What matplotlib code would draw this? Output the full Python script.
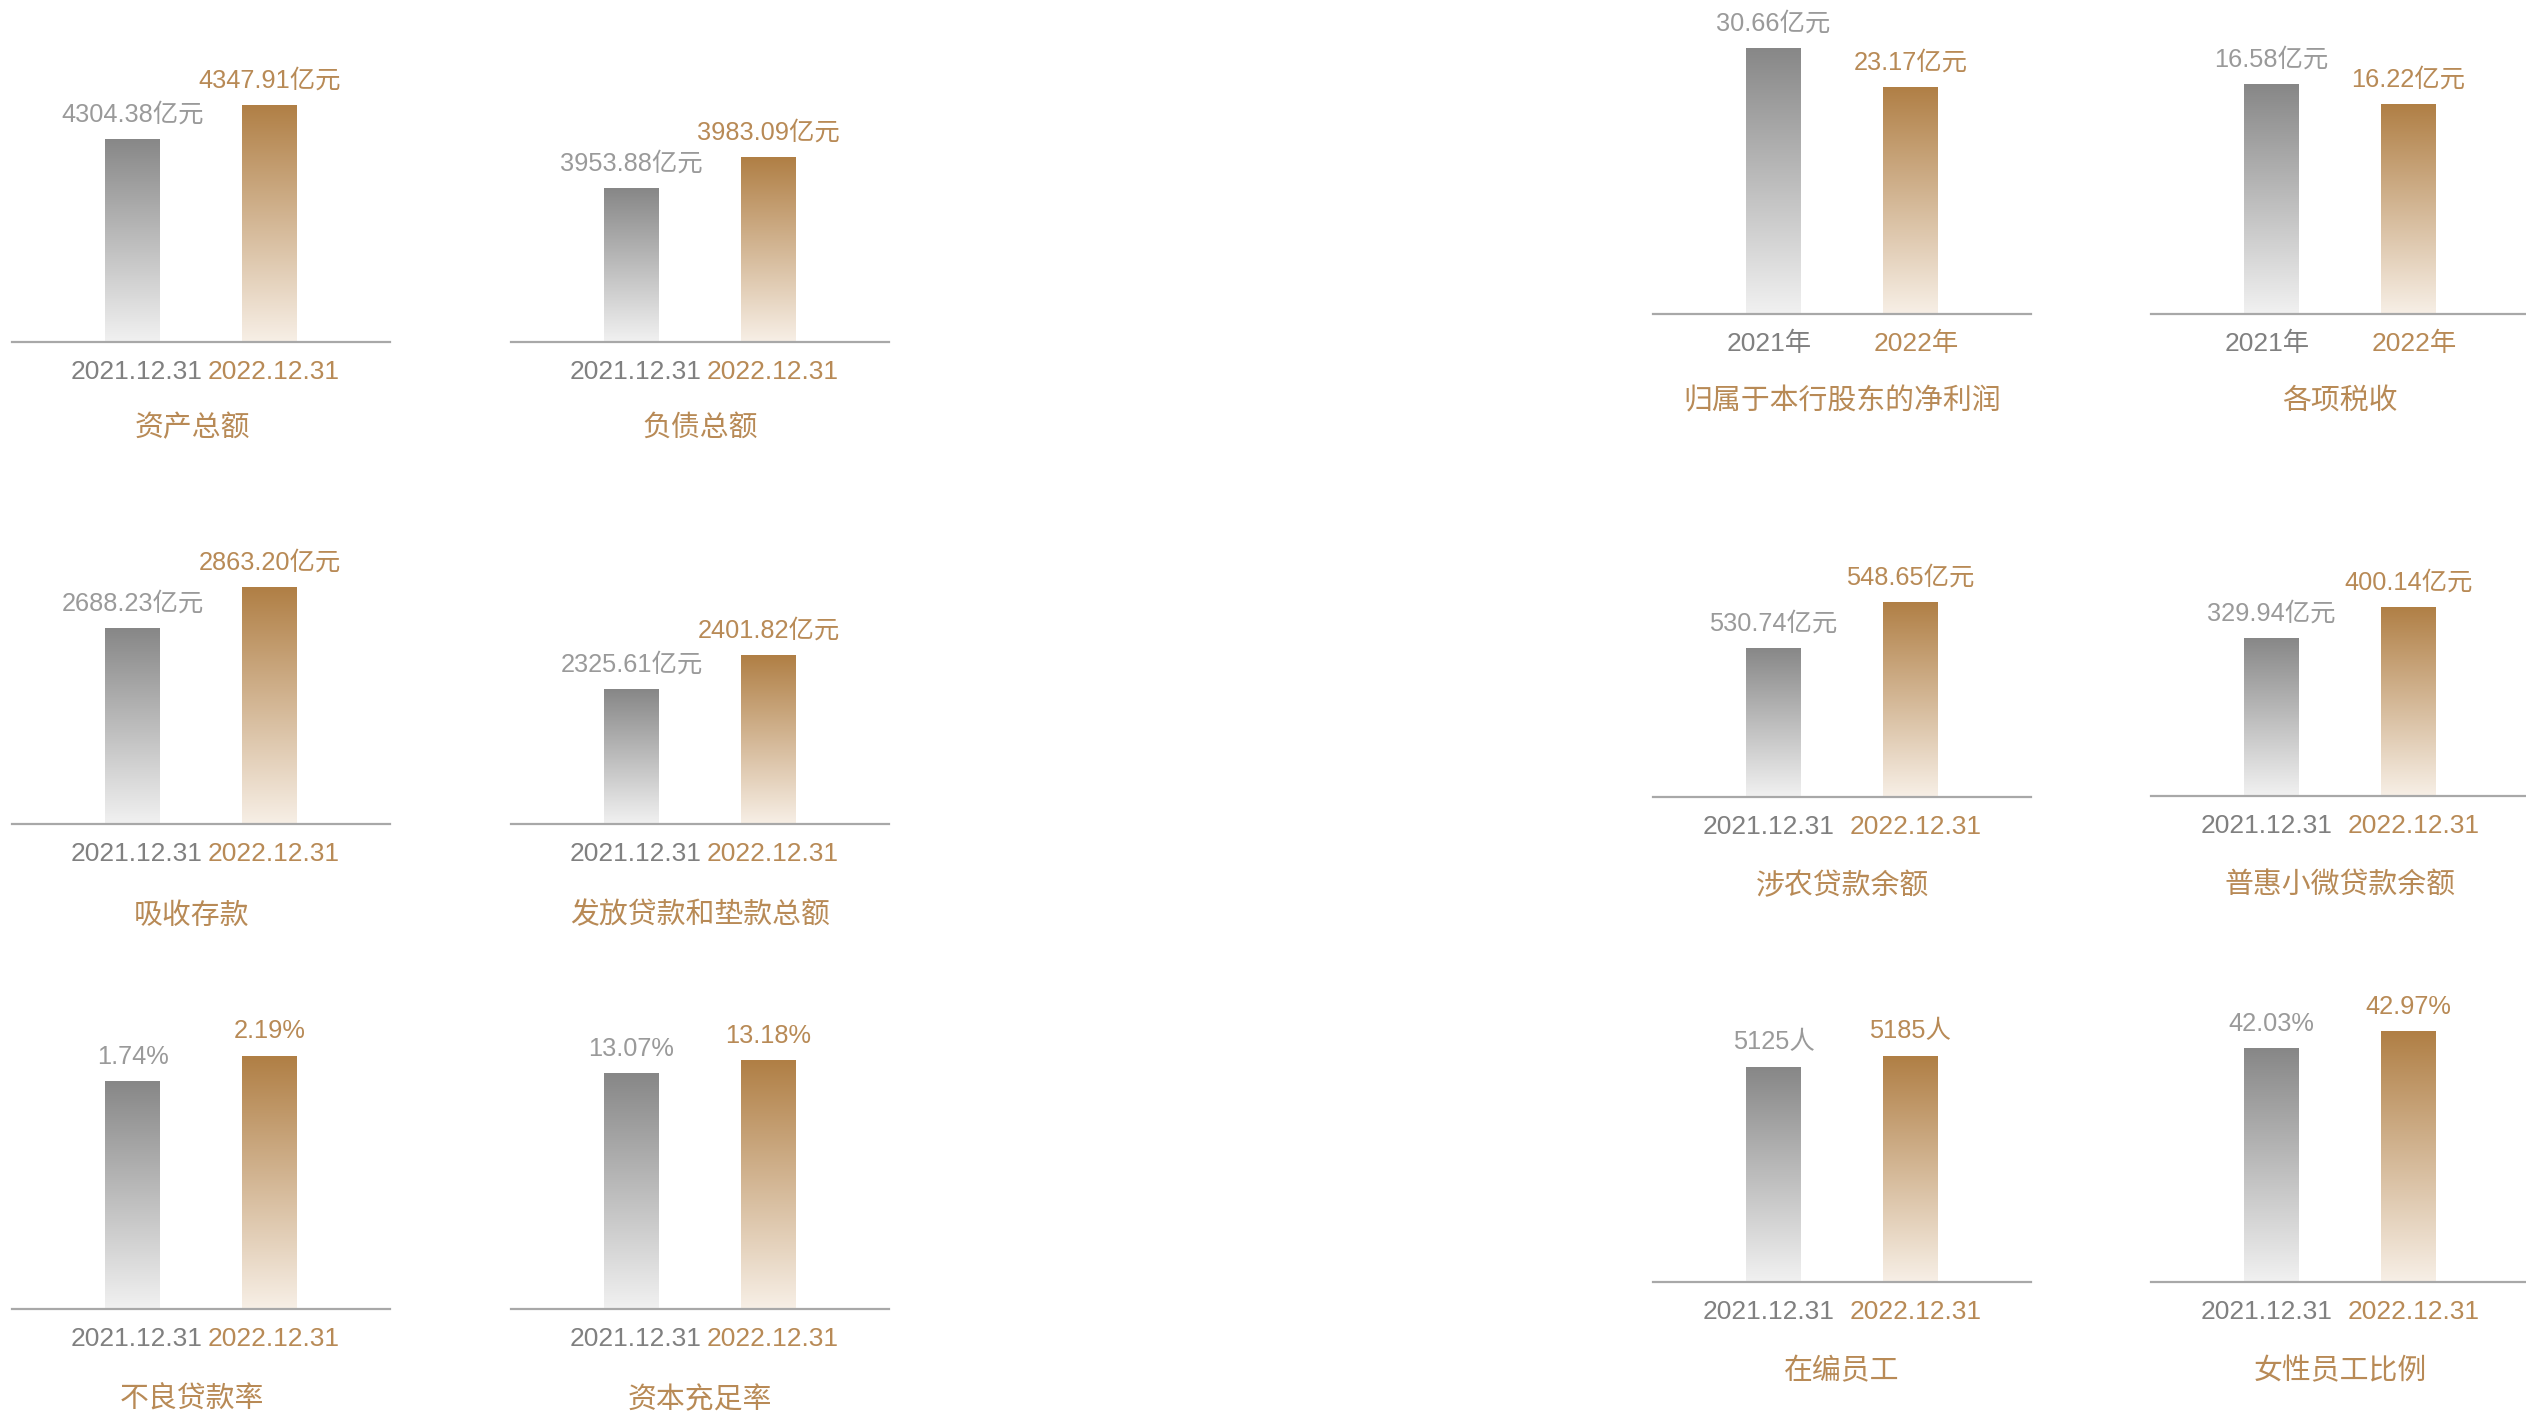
import numpy as np
import matplotlib
matplotlib.use('Agg')
import matplotlib.pyplot as plt
from matplotlib.colors import to_rgb

plt.rcParams['font.family'] = ['Liberation Sans', 'Noto Sans CJK SC']

# data, panel order: left block rows 1-3 (two columns), then right block rows 1-3
titles = ['资产总额', '负债总额', '吸收存款', '发放贷款和垫款总额', '不良贷款率', '资本充足率',
          '归属于本行股东的净利润', '各项税收', '涉农贷款余额', '普惠小微贷款余额', '在编员工', '女性员工比例']
v2021 = [4304.38, 3953.88, 2688.23, 2325.61, 1.74, 13.07, 30.66, 16.58, 530.74, 329.94, 5125, 42.03]
v2022 = [4347.91, 3983.09, 2863.20, 2401.82, 2.19, 13.18, 23.17, 16.22, 548.65, 400.14, 5185, 42.97]
units = ['亿元', '亿元', '亿元', '亿元', '%', '%', '亿元', '亿元', '亿元', '亿元', '人', '%']
dates = ['2021.12.31', '2022.12.31']
years = ['2021年', '2022年']
uses_years = [False] * 6 + [True, True] + [False] * 4

# y range of each panel (axis does not start at zero)
y_lims = [(4044.5, 4428.5), (3808.8, 4091.5), (1851.8, 3132.1), (2023.0, 2695.5),
          (-2.364, 3.036), (11.073, 13.612), (-20.43, 37.17), (12.44, 17.84),
          (472.7, 589.5), (-27.9, 651.5), (3952.3, 5588.7), (29.09, 45.68)]

# layout in pixels
W, H = 2526, 1413
axis_x0 = [12, 511, 12, 511, 12, 511, 1653, 2151, 1653, 2151, 1653, 2151]
baseline = [342, 342, 824, 824, 1309, 1309, 314, 314, 797, 796, 1282, 1282]
title_gap = [86, 86, 92, 91, 91, 91, 87, 87, 89, 89, 89, 89]
title_dx = [-9, 0, -9, 0, -9, 0, 0, 0, 0, 0, 0, 0]
tick_dx = [(4.5, 4.5)] * 6 + [(-4.5, 5.5)] * 6
axis_w, axis_h = 378, 300

gray_txt = '#9a9a9a'
gray_tick = '#808080'
gold_txt = '#b88a56'
bar_tops = ['#878787', '#b07f45']
bar_bots = ['#f1f1f1', '#f7efe6']
px = 72 / 100  # points per pixel

fig = plt.figure(figsize=(W / 100, H / 100), dpi=100)

for i in range(12):
    ax = fig.add_axes([axis_x0[i] / W, 1 - baseline[i] / H, axis_w / W, axis_h / H])
    ymin, ymax = y_lims[i]
    vals = [v2021[i], v2022[i]]
    xs = [0, 1]
    bars = ax.bar(xs, [v - ymin for v in vals], bottom=ymin, width=0.4,
                  color='none', edgecolor='none')
    for k, b in enumerate(bars):
        c0, c1 = np.array(to_rgb(bar_bots[k])), np.array(to_rgb(bar_tops[k]))
        t = np.linspace(0, 1, 256)[:, None, None]
        grad = c0 + (c1 - c0) * t
        im = ax.imshow(grad, extent=(b.get_x(), b.get_x() + b.get_width(), ymin, vals[k]),
                       origin='lower', aspect='auto', zorder=2)
        im.set_clip_path(b)

    ax.set_xlim(-0.88, 1.88)
    ax.set_ylim(ymin, ymax)
    for s in ['top', 'left', 'right']:
        ax.spines[s].set_visible(False)
    ax.spines['bottom'].set_color('#a8a8a8')
    ax.spines['bottom'].set_linewidth(1.6)
    ax.set_xticks([])
    ax.set_yticks([])
    ax.patch.set_alpha(0)

    labels = years if uses_years[i] else dates
    for k in range(2):
        col_val = gray_txt if k == 0 else gold_txt
        col_tick = gray_tick if k == 0 else gold_txt
        if units[i] == '人':
            txt = f'{vals[k]:.0f}{units[i]}'
        else:
            txt = f'{vals[k]:.2f}{units[i]}'
        ax.annotate(txt, (xs[k], vals[k]), xytext=(0, 24.5 * px), textcoords='offset points',
                    ha='center', va='center', fontsize=18.3, color=col_val, annotation_clip=False)
        ax.annotate(labels[k], (xs[k], 0), xycoords=('data', 'axes fraction'),
                    xytext=(tick_dx[i][k] * px, -30 * px), textcoords='offset points',
                    ha='center', va='center', fontsize=19, color=col_tick, annotation_clip=False)

    ax.annotate(titles[i], (0.5, 0), xycoords='axes fraction',
                xytext=(title_dx[i] * px, -title_gap[i] * px), textcoords='offset points',
                ha='center', va='center', fontsize=20.8, color=gold_txt,
                family=['Noto Sans CJK SC'], annotation_clip=False)

fig.savefig('out.png', dpi=100)
